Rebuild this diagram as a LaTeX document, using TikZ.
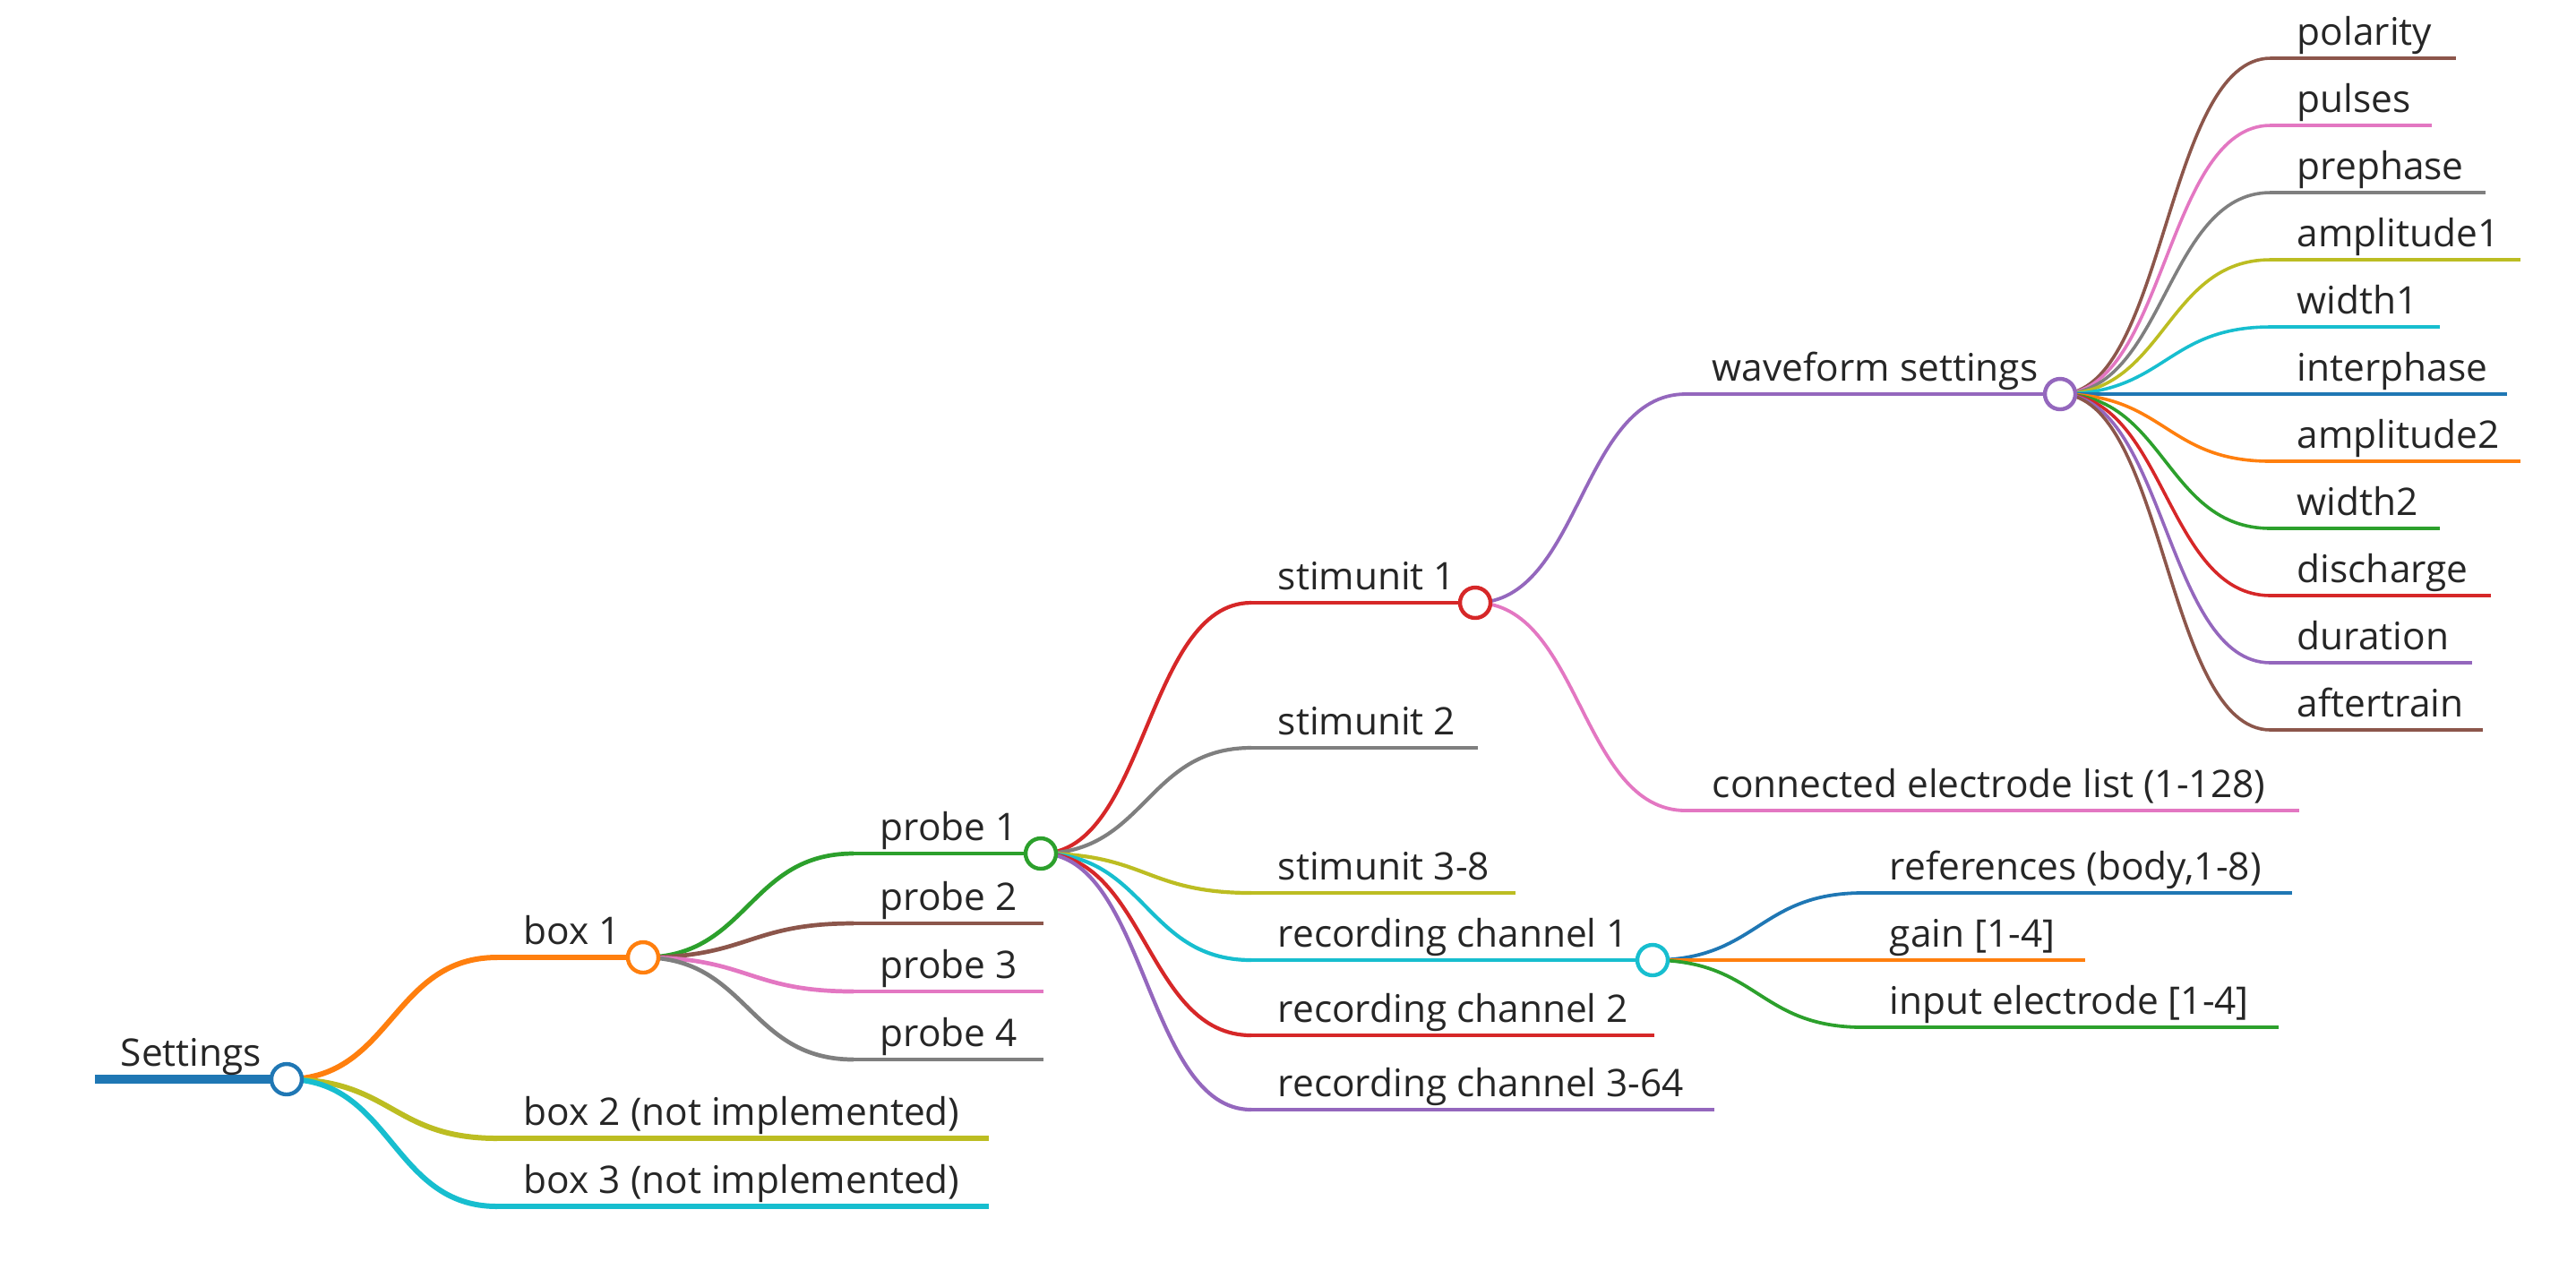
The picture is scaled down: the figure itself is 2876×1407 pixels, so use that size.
\documentclass[tikz,border=0pt]{standalone}
\usepackage{fontspec}
\setmainfont{Open Sans}
\usetikzlibrary{calc}

\definecolor{cblue}{HTML}{1F77B4}
\definecolor{corange}{HTML}{FF7F0E}
\definecolor{cgreen}{HTML}{2CA02C}
\definecolor{cred}{HTML}{D62728}
\definecolor{cpurple}{HTML}{9467BD}
\definecolor{cbrown}{HTML}{8C564B}
\definecolor{cpink}{HTML}{E377C2}
\definecolor{cgray}{HTML}{7F7F7F}
\definecolor{colive}{HTML}{BCBD22}
\definecolor{ccyan}{HTML}{17BECF}

\tikzset{
  lbl/.style={anchor=base west, inner sep=0pt, text=black!85, font=\fontsize{10.6}{12}\selectfont},
  knob/.style={circle, draw=#1, fill=white, line width=1.1pt, minimum size=8.5pt, inner sep=0pt},
  branch/.style={to path={.. controls +(117.5,0) and +(-117.5,0) .. (\tikztotarget)}},
  dA/.style={line width=2.6pt},
  dB/.style={line width=1.5pt},
  dC/.style={line width=1.18pt},
  dD/.style={line width=1.05pt},
  dE/.style={line width=0.95pt},
  dF/.style={line width=0.9pt}
}

\begin{document}
\begin{tikzpicture}[x=0.25pt,y=-0.25pt]
\useasboundingbox (0,0) rectangle (2876,1407);

% root
\coordinate (settings) at (106,1205);
\coordinate (settings-c) at (320,1205);

% boxes
\coordinate (box1) at (555,1069);   \coordinate (box1-c) at (718,1069);
\coordinate (box2) at (555,1271);   \coordinate (box2-e) at (1104,1271);
\coordinate (box3) at (555,1347);   \coordinate (box3-e) at (1104,1347);

% probes
\coordinate (probe1) at (953,953);  \coordinate (probe1-c) at (1162,953);
\coordinate (probe2) at (953,1031); \coordinate (probe2-e) at (1165,1031);
\coordinate (probe3) at (953,1107); \coordinate (probe3-e) at (1165,1107);
\coordinate (probe4) at (953,1183); \coordinate (probe4-e) at (1165,1183);

% stimunits and recording channels
\coordinate (stim1) at (1397,673);  \coordinate (stim1-c) at (1647,673);
\coordinate (stim2) at (1397,835);  \coordinate (stim2-e) at (1650,835);
\coordinate (stim38) at (1397,997); \coordinate (stim38-e) at (1692,997);
\coordinate (rec1) at (1397,1072);  \coordinate (rec1-c) at (1845,1072);
\coordinate (rec2) at (1397,1156);  \coordinate (rec2-e) at (1847,1156);
\coordinate (rec364) at (1397,1239); \coordinate (rec364-e) at (1914,1239);

% under stimunit 1
\coordinate (wave) at (1882,440);   \coordinate (wave-c) at (2300,440);
\coordinate (elec) at (1882,905);   \coordinate (elec-e) at (2567,905);

% under recording channel 1
\coordinate (refs) at (2080,997);   \coordinate (refs-e) at (2559,997);
\coordinate (gain) at (2080,1072);  \coordinate (gain-e) at (2328,1072);
\coordinate (input) at (2080,1147); \coordinate (input-e) at (2544,1147);

% waveform settings
\coordinate (polarity) at (2535,65);     \coordinate (polarity-e) at (2742,65);
\coordinate (pulses) at (2535,140);      \coordinate (pulses-e) at (2715,140);
\coordinate (prephase) at (2535,215);    \coordinate (prephase-e) at (2775,215);
\coordinate (amp1) at (2535,290);        \coordinate (amp1-e) at (2814,290);
\coordinate (width1) at (2535,365);      \coordinate (width1-e) at (2724,365);
\coordinate (interphase) at (2535,440);  \coordinate (interphase-e) at (2799,440);
\coordinate (amp2) at (2535,515);        \coordinate (amp2-e) at (2814,515);
\coordinate (width2) at (2535,590);      \coordinate (width2-e) at (2724,590);
\coordinate (discharge) at (2535,665);   \coordinate (discharge-e) at (2781,665);
\coordinate (duration) at (2535,740);    \coordinate (duration-e) at (2760,740);
\coordinate (aftertrain) at (2535,815);  \coordinate (aftertrain-e) at (2772,815);

% horizontal lines
\draw[dA, cblue] (settings) -- (settings-c);
\draw[dB, corange] (box1) -- (box1-c);
\draw[dB, colive] (box2) -- (box2-e);
\draw[dB, ccyan] (box3) -- (box3-e);
\draw[dC, cgreen] (probe1) -- (probe1-c);
\draw[dC, cbrown] (probe2) -- (probe2-e);
\draw[dC, cpink] (probe3) -- (probe3-e);
\draw[dC, cgray] (probe4) -- (probe4-e);
\draw[dD, cred] (stim1) -- (stim1-c);
\draw[dD, cgray] (stim2) -- (stim2-e);
\draw[dD, colive] (stim38) -- (stim38-e);
\draw[dD, ccyan] (rec1) -- (rec1-c);
\draw[dD, cred] (rec2) -- (rec2-e);
\draw[dD, cpurple] (rec364) -- (rec364-e);
\draw[dE, cpurple] (wave) -- (wave-c);
\draw[dE, cpink] (elec) -- (elec-e);
\draw[dE, cblue] (refs) -- (refs-e);
\draw[dE, corange] (gain) -- (gain-e);
\draw[dE, cgreen] (input) -- (input-e);
\draw[dF, cbrown] (polarity) -- (polarity-e);
\draw[dF, cpink] (pulses) -- (pulses-e);
\draw[dF, cgray] (prephase) -- (prephase-e);
\draw[dF, colive] (amp1) -- (amp1-e);
\draw[dF, ccyan] (width1) -- (width1-e);
\draw[dF, cblue] (interphase) -- (interphase-e);
\draw[dF, corange] (amp2) -- (amp2-e);
\draw[dF, cgreen] (width2) -- (width2-e);
\draw[dF, cred] (discharge) -- (discharge-e);
\draw[dF, cpurple] (duration) -- (duration-e);
\draw[dF, cbrown] (aftertrain) -- (aftertrain-e);

% links
\draw[dB, corange] (settings-c) to[branch] (box1);
\draw[dB, colive] (settings-c) to[branch] (box2);
\draw[dB, ccyan] (settings-c) to[branch] (box3);
\draw[dC, cgreen] (box1-c) to[branch] (probe1);
\draw[dC, cbrown] (box1-c) to[branch] (probe2);
\draw[dC, cpink] (box1-c) to[branch] (probe3);
\draw[dC, cgray] (box1-c) to[branch] (probe4);
\draw[dD, cred] (probe1-c) to[branch] (stim1);
\draw[dD, cgray] (probe1-c) to[branch] (stim2);
\draw[dD, colive] (probe1-c) to[branch] (stim38);
\draw[dD, ccyan] (probe1-c) to[branch] (rec1);
\draw[dD, cred] (probe1-c) to[branch] (rec2);
\draw[dD, cpurple] (probe1-c) to[branch] (rec364);
\draw[dE, cpurple] (stim1-c) to[branch] (wave);
\draw[dE, cpink] (stim1-c) to[branch] (elec);
\draw[dE, cblue] (rec1-c) to[branch] (refs);
\draw[dE, corange] (rec1-c) to[branch] (gain);
\draw[dE, cgreen] (rec1-c) to[branch] (input);
\draw[dF, cbrown] (wave-c) to[branch] (polarity);
\draw[dF, cpink] (wave-c) to[branch] (pulses);
\draw[dF, cgray] (wave-c) to[branch] (prephase);
\draw[dF, colive] (wave-c) to[branch] (amp1);
\draw[dF, ccyan] (wave-c) to[branch] (width1);
\draw[dF, cblue] (wave-c) to[branch] (interphase);
\draw[dF, corange] (wave-c) to[branch] (amp2);
\draw[dF, cgreen] (wave-c) to[branch] (width2);
\draw[dF, cred] (wave-c) to[branch] (discharge);
\draw[dF, cpurple] (wave-c) to[branch] (duration);
\draw[dF, cbrown] (wave-c) to[branch] (aftertrain);

% circles
\node[knob=cblue] (settings-k) at (settings-c) {};
\node[knob=corange] (box1-k) at (box1-c) {};
\node[knob=cgreen] (probe1-k) at (probe1-c) {};
\node[knob=cred] (stim1-k) at (stim1-c) {};
\node[knob=ccyan] (rec1-k) at (rec1-c) {};
\node[knob=cpurple] (wave-k) at (wave-c) {};

% labels
\node[lbl] (settings-t) at ($(settings)+(28,-15)$) {Settings};
\node[lbl] (box1-t) at ($(box1)+(29,-15)$) {box 1};
\node[lbl] (box2-t) at ($(box2)+(29,-15)$) {box 2 (not implemented)};
\node[lbl] (box3-t) at ($(box3)+(29,-15)$) {box 3 (not implemented)};
\node[lbl] (probe1-t) at ($(probe1)+(29,-15)$) {probe 1};
\node[lbl] (probe2-t) at ($(probe2)+(29,-15)$) {probe 2};
\node[lbl] (probe3-t) at ($(probe3)+(29,-15)$) {probe 3};
\node[lbl] (probe4-t) at ($(probe4)+(29,-15)$) {probe 4};
\node[lbl] (stim1-t) at ($(stim1)+(29,-15)$) {stimunit 1};
\node[lbl] (stim2-t) at ($(stim2)+(29,-15)$) {stimunit 2};
\node[lbl] (stim38-t) at ($(stim38)+(29,-15)$) {stimunit 3-8};
\node[lbl] (rec1-t) at ($(rec1)+(29,-15)$) {recording channel 1};
\node[lbl] (rec2-t) at ($(rec2)+(29,-15)$) {recording channel 2};
\node[lbl] (rec364-t) at ($(rec364)+(29,-15)$) {recording channel 3-64};
\node[lbl] (wave-t) at ($(wave)+(29,-15)$) {waveform settings};
\node[lbl] (elec-t) at ($(elec)+(29,-15)$) {connected electrode list (1-128)};
\node[lbl] (refs-t) at ($(refs)+(29,-15)$) {references (body,1-8)};
\node[lbl] (gain-t) at ($(gain)+(29,-15)$) {gain [1-4]};
\node[lbl] (input-t) at ($(input)+(29,-15)$) {input electrode [1-4]};
\node[lbl] (polarity-t) at ($(polarity)+(29,-15)$) {polarity};
\node[lbl] (pulses-t) at ($(pulses)+(29,-15)$) {pulses};
\node[lbl] (prephase-t) at ($(prephase)+(29,-15)$) {prephase};
\node[lbl] (amp1-t) at ($(amp1)+(29,-15)$) {amplitude1};
\node[lbl] (width1-t) at ($(width1)+(29,-15)$) {width1};
\node[lbl] (interphase-t) at ($(interphase)+(29,-15)$) {interphase};
\node[lbl] (amp2-t) at ($(amp2)+(29,-15)$) {amplitude2};
\node[lbl] (width2-t) at ($(width2)+(29,-15)$) {width2};
\node[lbl] (discharge-t) at ($(discharge)+(29,-15)$) {discharge};
\node[lbl] (duration-t) at ($(duration)+(29,-15)$) {duration};
\node[lbl] (aftertrain-t) at ($(aftertrain)+(29,-15)$) {aftertrain};

\end{tikzpicture}
\end{document}
